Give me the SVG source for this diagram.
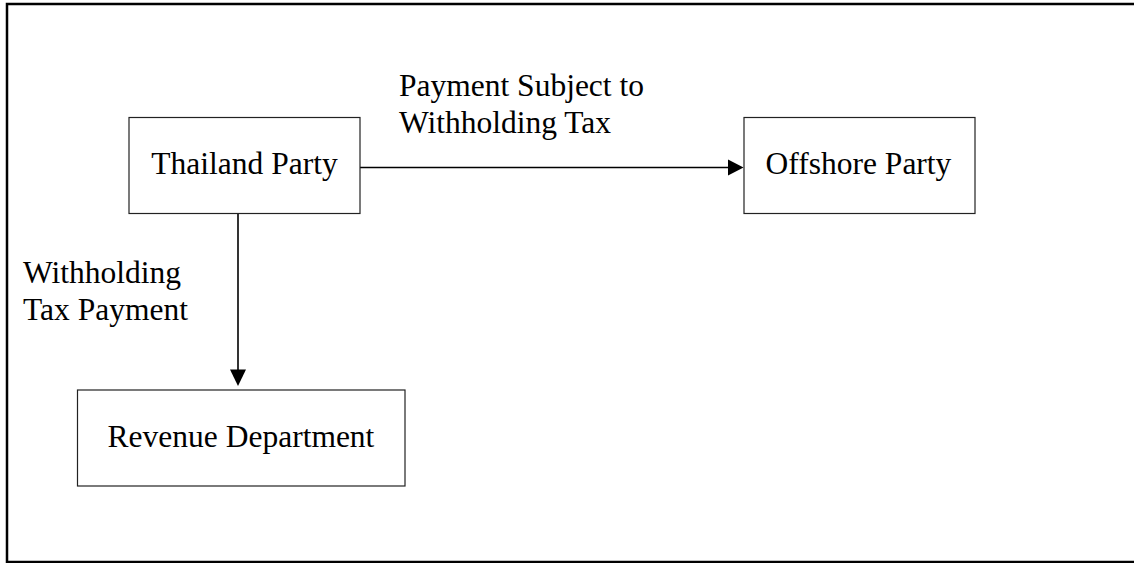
<svg xmlns="http://www.w3.org/2000/svg" width="1134" height="563" viewBox="0 0 1134 563">
  <style>
    .frame { fill: none; stroke: #000; stroke-width: 2.5; }
    .box { fill: #fff; stroke: #222; stroke-width: 1.2; }
    .label { font-family: "Liberation Serif", "Times New Roman", serif; font-size: 31.5px; fill: #000; }
    .edge { fill: none; stroke: #000; stroke-width: 1.6; }
    .head { fill: #000; stroke: none; }
  </style>

  <rect width="1134" height="563" fill="#fff"/>
  <!-- outer frame (right side runs past the canvas) -->
  <rect class="frame" x="7" y="4" width="1140" height="558"/>

  <g id="connectors">
    <!-- Thailand Party -> Offshore Party -->
    <line class="edge" x1="360" y1="167.5" x2="729" y2="167.5"/>
    <polygon class="head" points="728,159.5 743.5,167.5 728,175.5"/>
    <text class="label" x="399" y="96">Payment Subject to</text>
    <text class="label" x="399" y="132.5">Withholding Tax</text>

    <!-- Thailand Party -> Revenue Department -->
    <line class="edge" x1="238" y1="213" x2="238" y2="370"/>
    <polygon class="head" points="230,369.5 246,369.5 238,386"/>
    <text class="label" x="23" y="283">Withholding</text>
    <text class="label" x="23" y="320">Tax Payment</text>
  </g>

  <g id="thailand-party">
    <rect class="box" x="129" y="117.5" width="231" height="96"/>
    <text class="label" x="244.5" y="174" text-anchor="middle">Thailand Party</text>
  </g>

  <g id="offshore-party">
    <rect class="box" x="744" y="117.5" width="231" height="96"/>
    <text class="label" x="858.5" y="173.5" text-anchor="middle">Offshore Party</text>
  </g>

  <g id="revenue-department">
    <rect class="box" x="77.5" y="390" width="327.5" height="96"/>
    <text class="label" x="241" y="447" text-anchor="middle">Revenue Department</text>
  </g>
</svg>
